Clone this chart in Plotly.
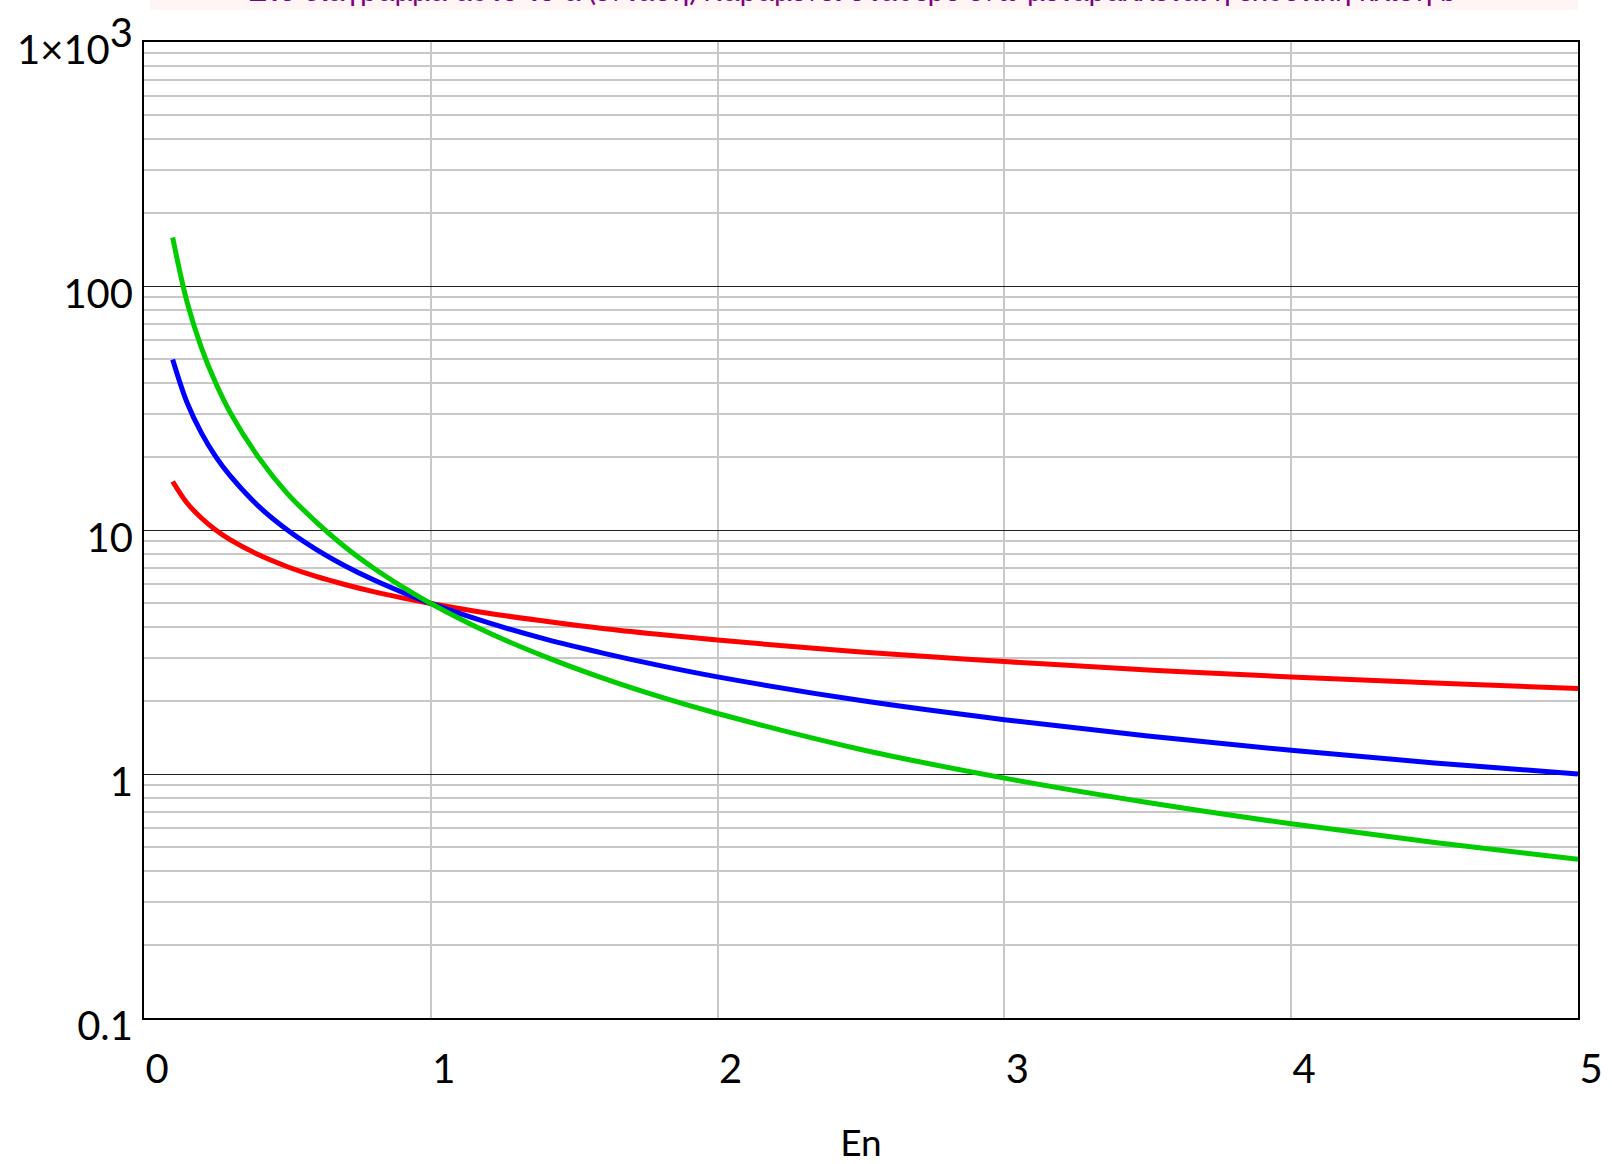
import plotly.graph_objects as go

# ---- data ----
en = [0.1, 0.15, 0.2, 0.25, 0.3, 0.4, 0.5, 0.6, 0.7, 0.8, 0.9, 1.0,
      1.2, 1.4, 1.6, 1.8, 2.0, 2.5, 3.0, 3.5, 4.0, 4.5, 5.0]
red_vals = [15.8, 12.9, 11.2, 10.0, 9.13, 7.91, 7.07, 6.45, 5.98, 5.59, 5.27, 5.0,
            4.56, 4.23, 3.95, 3.73, 3.54, 3.16, 2.89, 2.67, 2.5, 2.36, 2.24]
blue_vals = [50, 33.3, 25, 20, 16.7, 12.5, 10, 8.33, 7.14, 6.25, 5.56, 5.0,
             4.17, 3.57, 3.13, 2.78, 2.5, 2.0, 1.67, 1.43, 1.25, 1.11, 1.0]
green_vals = [158, 86.1, 55.9, 40, 30.4, 19.8, 14.1, 10.8, 8.54, 6.99, 5.86, 5.0,
              3.80, 3.02, 2.47, 2.07, 1.77, 1.26, 0.962, 0.764, 0.625, 0.524, 0.447]

x_ticks = [0, 1, 2, 3, 4, 5]
y_ticks = [0.1, 1, 10, 100, 1000]
y_ticktext = ["0.1", "1", "10", "100",
              "1×10<sup><span style='font-size:40px'>3</span></sup>"]
title_text = "Στο διάγραμμα αυτό το α (ένταση) παραμένει σταθερό ενώ μεταβάλλεται η εκθετική κλίση b"
x_title = "En"

FONT = "Lato"
W, H = 1612, 1164
L, R, T, B = 144, 34, 42, 146
PW, PH = W - L - R, H - T - B
minor_vals = [m * 10 ** e for e in range(-1, 3) for m in range(2, 10)]

fig = go.Figure()
for vals, col in [(red_vals, "#ff0000"), (blue_vals, "#0000ff"), (green_vals, "#00cc00")]:
    fig.add_trace(go.Scatter(x=en, y=vals, mode="lines",
                             line=dict(color=col, width=5, shape="spline", smoothing=1.0),
                             showlegend=False, hoverinfo="skip"))

fig.update_layout(
    width=W, height=H, autosize=False,
    margin=dict(l=L, r=R, t=T, b=B, pad=0),
    paper_bgcolor="white", plot_bgcolor="white",
    font=dict(family=FONT, size=40, color="black"),
    xaxis=dict(
        range=[0, 5], tickmode="array", tickvals=x_ticks, automargin=False,
        showgrid=True, gridcolor="#c8c8c8", gridwidth=1.5,
        zeroline=False, showline=True, linecolor="black", linewidth=2, mirror=True,
        ticks="", ticklabelshift=13, ticklabelstandoff=15,
        title=dict(text=x_title, standoff=39, font=dict(family=FONT, size=37)),
    ),
    yaxis=dict(
        type="log", range=[-1, 3], tickmode="array", tickvals=y_ticks, ticktext=y_ticktext,
        automargin=False,
        showgrid=True, gridcolor="#222222", gridwidth=1.3,
        zeroline=False, showline=True, linecolor="black", linewidth=2, mirror=True,
        ticks="", ticklabelshift=8, ticklabelstandoff=1,
        minor=dict(tickmode="array", tickvals=minor_vals, showgrid=True,
                   gridcolor="#c8c8c8", gridwidth=1.5, ticks=""),
    ),
    shapes=[dict(
        type="rect", xref="paper", yref="paper",
        x0=(150 - L) / PW, x1=1.0, y0=1 + (T - 10) / PH, y1=1 + T / PH,
        fillcolor="#fff5f5", line=dict(width=0), layer="below",
    )],
    annotations=[dict(
        text=title_text, xref="paper", yref="paper", x=(852 - L) / PW, y=1,
        xanchor="center", yanchor="bottom", yshift=33, showarrow=False,
        font=dict(family=FONT, size=29.5, color="#800080"),
    )],
)

fig.write_html("out.html", config={"displayModeBar": False},
               post_script="document.body.style.margin='0';")
